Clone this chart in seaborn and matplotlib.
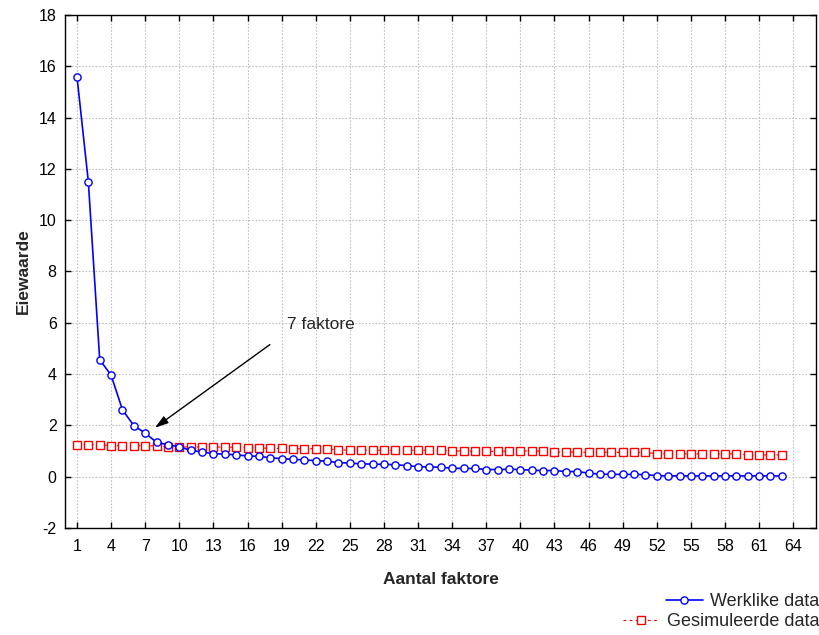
import numpy as np
import pandas as pd
import matplotlib
matplotlib.use("Agg")
import matplotlib.pyplot as plt
from matplotlib.lines import Line2D
import seaborn as sns

# eigenvalues
factors = list(range(1, 64))
werklike = [15.6, 11.5, 4.56, 3.96, 2.61, 1.99, 1.70, 1.34, 1.25, 1.16,
            1.03, 0.96, 0.90, 0.88, 0.85, 0.81, 0.79, 0.74, 0.70, 0.68,
            0.65, 0.63, 0.60, 0.55, 0.53, 0.50, 0.49, 0.48, 0.47, 0.43,
            0.39, 0.38, 0.37, 0.33, 0.32, 0.32, 0.28, 0.28, 0.29, 0.28,
            0.25, 0.24, 0.24, 0.20, 0.20, 0.14, 0.10, 0.09, 0.09, 0.09,
            0.08, 0.04, 0.03, 0.03, 0.03, 0.03, 0.03, 0.03, 0.03, 0.03,
            0.03, 0.03, 0.03]
gesimuleer = [1.25, 1.25, 1.25, 1.21, 1.21, 1.21, 1.21, 1.20, 1.17, 1.16,
              1.16, 1.16, 1.16, 1.15, 1.15, 1.13, 1.12, 1.11, 1.10, 1.09,
              1.09, 1.09, 1.09, 1.04, 1.04, 1.04, 1.04, 1.03, 1.03, 1.03,
              1.03, 1.03, 1.03, 1.00, 1.00, 0.99, 0.99, 0.99, 1.00, 1.00,
              1.00, 1.00, 0.96, 0.96, 0.96, 0.95, 0.95, 0.95, 0.95, 0.95,
              0.95, 0.89, 0.89, 0.89, 0.89, 0.89, 0.89, 0.89, 0.89, 0.85,
              0.85, 0.85, 0.85]
xticks = list(range(1, 65, 3))
yticks = list(range(-2, 19, 2))

df = pd.DataFrame({"faktor": factors, "werklike": werklike, "gesimuleer": gesimuleer})

sns.set_style("ticks")
plt.rcParams["font.family"] = ["Liberation Sans", "DejaVu Sans"]
plt.rcParams["axes.unicode_minus"] = False

fig = plt.figure(figsize=(8.19, 6.35), dpi=100)
ax = fig.add_axes([0.0794, 0.1685, 0.9169, 0.8079])

sns.lineplot(data=df, x="faktor", y="werklike", ax=ax, color="blue", lw=1.2,
             marker="o", markersize=5.2, markerfacecolor="white",
             markeredgecolor="blue", markeredgewidth=1.0, zorder=3)
sns.lineplot(data=df, x="faktor", y="gesimuleer", ax=ax, color="red", lw=0.8,
             linestyle=(0, (3, 3)), marker="s", markersize=5.5,
             markerfacecolor="white", markeredgecolor="red",
             markeredgewidth=1.0, zorder=2)

ax.set_xlim(-0.05, 66)
ax.set_ylim(-2, 18)
ax.set_xticks(xticks)
ax.set_yticks(yticks)
ax.grid(True, linestyle=(0, (1.5, 1.5)), color="#c0c0c0", lw=0.8)
ax.set_axisbelow(True)
for s in ax.spines.values():
    s.set_visible(True)
    s.set_color("black")
    s.set_linewidth(1.0)
ax.tick_params(direction="in", length=4, width=1, top=True, right=True,
               labelsize=11.5, colors="black")
ax.tick_params(axis="x", pad=8)
ax.tick_params(axis="y", pad=6)

ax.set_xlabel("Aantal faktore", fontsize=12.5, fontweight="bold", labelpad=13)
ax.set_ylabel("Eiewaarde", fontsize=12.5, fontweight="bold", labelpad=6)

ax.annotate("", xy=(7.86, 1.91), xytext=(17.97, 5.15),
            arrowprops=dict(arrowstyle="-|>,head_length=0.8,head_width=0.25",
                            color="black", lw=1.0, shrinkA=0, shrinkB=0))
ax.text(19.47, 5.93, "7 faktore", fontsize=12.5, ha="left", va="center")

h1 = Line2D([], [], color="blue", lw=1.2, marker="o", markersize=5.2,
            markerfacecolor="white", markeredgecolor="blue")
h2 = Line2D([], [], color="red", lw=0.8, linestyle=(0, (2.5, 3)), marker="s",
            markersize=5.5, markerfacecolor="white", markeredgecolor="red")
fig.legend([h1], ["Werklike data"], loc="center right",
           bbox_to_anchor=(1.0, 0.052), frameon=False, fontsize=13,
           borderaxespad=0, borderpad=0, handlelength=2.0, handletextpad=0.4)
fig.legend([h2], ["Gesimuleerde data"], loc="center right",
           bbox_to_anchor=(1.0, 0.0205), frameon=False, fontsize=13,
           borderaxespad=0, borderpad=0, handlelength=2.0, handletextpad=0.4)

fig.savefig("out.png", dpi=100)
